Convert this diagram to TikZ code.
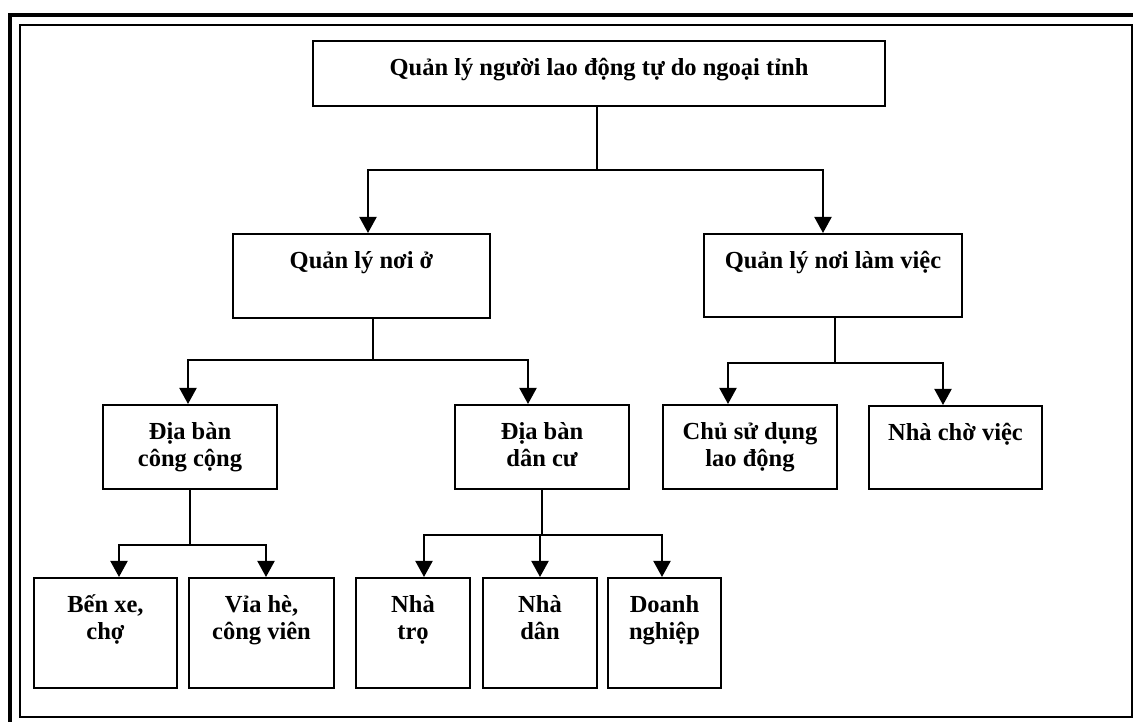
\documentclass[tikz,border=0pt]{standalone}
\usepackage{fontspec}
\setmainfont{Liberation Serif}
\usetikzlibrary{arrows.meta}
\newcommand{\cell}[3]{\parbox[c][#2][t]{#1}{\centering\rule{0pt}{35pt}#3}}

\begin{document}
\begin{tikzpicture}[x=1pt,y=1pt]
    \tikzset{box/.style={draw,line width=2pt,anchor=north west,inner sep=0pt,
        font=\bfseries\fontsize{24.5}{27}\selectfont},
      arr/.style={line width=2pt,-{Triangle[length=16pt,width=17pt]}},
      lnk/.style={line width=2pt}}
\useasboundingbox (0,0) rectangle (1133,722);
% khung
\draw[line width=4pt] (10,0) -- (10,709);
\draw[line width=4pt] (8,707) -- (1133,707);
\draw[line width=2pt] (20,5) rectangle (1131.5,697);
% cac o
\node[box] (QL) at (312,682) {\cell{572pt}{65pt}{Quản lý người lao động tự do ngoại tỉnh}};
\node[box] (QLo) at (232,489) {\cell{257pt}{84pt}{Quản lý nơi ở}};
\node[box] (QLv) at (703,489) {\cell{258pt}{83pt}{Quản lý nơi làm việc}};
\node[box] (DBcc) at (102,318) {\cell{174pt}{84pt}{Địa bàn\\công cộng}};
\node[box] (DBdc) at (454,318) {\cell{174pt}{84pt}{Địa bàn\\dân cư}};
\node[box] (CSD) at (662,318) {\cell{174pt}{84pt}{Chủ sử dụng\\lao động}};
\node[box] (NCV) at (868,317) {\cell{173pt}{83pt}{Nhà chờ việc}};
\node[box] (BX) at (33,145) {\cell{143pt}{110pt}{Bến xe,\\chợ}};
\node[box] (VH) at (188,145) {\cell{145pt}{110pt}{Vỉa hè,\\công viên}};
\node[box] (NT) at (355,145) {\cell{114pt}{110pt}{Nhà\\trọ}};
\node[box] (ND) at (482,145) {\cell{114pt}{110pt}{Nhà\\dân}};
\node[box] (DN) at (607,145) {\cell{113pt}{110pt}{Doanh\\nghiệp}};
% noi
\draw[lnk] ([xshift=-2pt]QL.south) -- ++(0,-63) coordinate (j0);
\draw[arr] (j0) -| ([xshift=6.5pt]QLo.north);
\draw[arr] (j0) -| ([xshift=-10pt]QLv.north);
\draw[lnk] ([xshift=11.5pt]QLo.south) -- ++(0,-41) coordinate (j1);
\draw[arr] (j1) -| ([xshift=-2pt]DBcc.north);
\draw[arr] (j1) -| ([xshift=-14pt]DBdc.north);
\draw[lnk] ([xshift=2pt]QLv.south) -- ++(0,-45) coordinate (j2);
\draw[arr] (j2) -| ([xshift=-22pt]CSD.north);
\draw[arr] (j2) -| ([xshift=-12.5pt]NCV.north);
\draw[lnk] (DBcc.south) -- ++(0,-55) coordinate (j3);
\draw[arr] (j3) -| ([xshift=13.5pt]BX.north);
\draw[arr] (j3) -| ([xshift=4.5pt]VH.north);
\draw[lnk] (DBdc.south) -- ++(0,-45) coordinate (j4);
\draw[arr] (j4) -| ([xshift=11pt]NT.north);
\draw[arr] (j4) -| (ND.north);
\draw[arr] (j4) -| ([xshift=-2.5pt]DN.north);
\end{tikzpicture}
\end{document}
